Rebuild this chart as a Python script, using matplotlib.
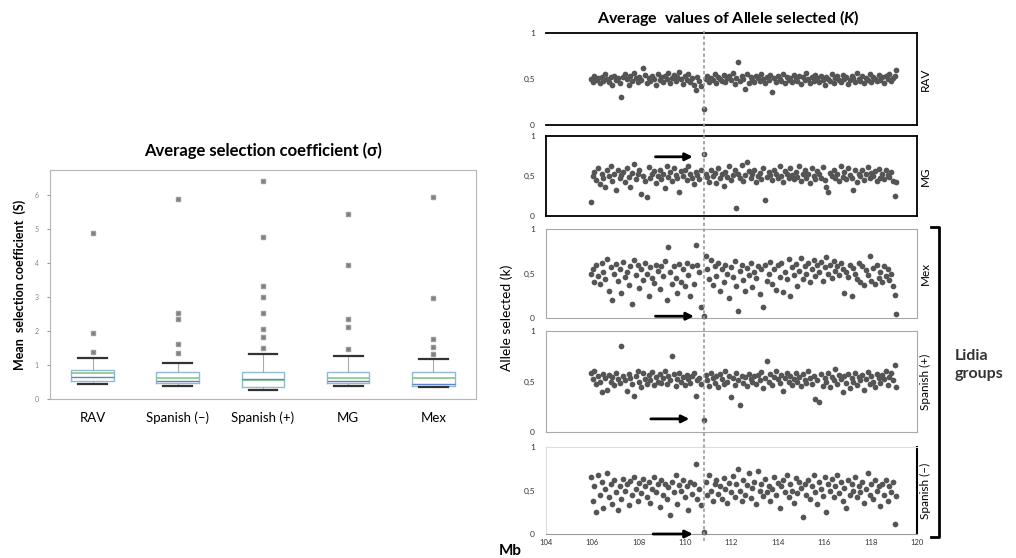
import matplotlib.pyplot as plt
from matplotlib.lines import Line2D
import matplotlib.transforms as mtransforms

plt.rcParams['font.family'] = ['Lato', 'DejaVu Sans']
plt.rcParams['mathtext.fontset'] = 'custom'
plt.rcParams['mathtext.it'] = 'Lato:bold:italic'

# ======================
# DATA - boxplot (mean selection coefficient)
# ======================
box_groups = ["RAV", "Spanish (–)", "Spanish (+)", "MG", "Mex"]
box_q1 = [0.53, 0.47, 0.35, 0.47, 0.38]
box_med = [0.78, 0.63, 0.55, 0.62, 0.61]
box_mean = [0.66, 0.52, 0.60, 0.53, 0.45]
box_q3 = [0.85, 0.79, 0.79, 0.79, 0.79]
box_whislo = [0.44, 0.38, 0.26, 0.38, 0.36]
box_whishi = [1.20, 1.06, 1.32, 1.26, 1.18]
box_fliers = [
    [1.38, 1.94, 4.88],
    [1.35, 1.62, 2.35, 2.53, 5.88],
    [1.50, 1.82, 2.06, 2.53, 3.00, 3.32, 4.76, 6.41],
    [1.47, 2.12, 2.35, 3.94, 5.44],
    [1.32, 1.53, 1.76, 2.97, 5.94],
]
box_yticks = [0, 1, 2, 3, 4, 5, 6]

# ======================
# DATA - allele selected (K) per SNP position (Mb)
# ======================
pos_mb = [
    105.92, 106.01, 106.08, 106.17, 106.24, 106.31, 106.40, 106.46, 106.55, 106.63,
    106.70, 106.79, 106.85, 106.94, 107.02, 107.09, 107.18, 107.25, 107.33, 107.41,
    107.48, 107.57, 107.64, 107.72, 107.80, 107.87, 107.96, 108.03, 108.11, 108.20,
    108.27, 108.35, 108.43, 108.50, 108.58, 108.66, 108.73, 108.82, 108.90, 108.97,
    109.05, 109.13, 109.21, 109.28, 109.36, 109.44, 109.51, 109.60, 109.67, 109.75,
    109.83, 109.91, 109.98, 110.06, 110.14, 110.22, 110.29, 110.37, 110.45, 110.53,
    110.61, 110.69, 110.80, 110.88, 110.96, 111.04, 111.12, 111.19, 111.27, 111.35,
    111.43, 111.50, 111.58, 111.66, 111.74, 111.81, 111.89, 111.97, 112.05, 112.13,
    112.20, 112.28, 112.36, 112.44, 112.51, 112.59, 112.67, 112.75, 112.82, 112.90,
    112.98, 113.06, 113.14, 113.21, 113.29, 113.37, 113.45, 113.52, 113.60, 113.68,
    113.76, 113.83, 113.91, 113.99, 114.07, 114.15, 114.22, 114.30, 114.38, 114.46,
    114.53, 114.61, 114.69, 114.77, 114.84, 114.92, 115.00, 115.08, 115.16, 115.23,
    115.31, 115.39, 115.47, 115.54, 115.62, 115.70, 115.78, 115.85, 115.93, 116.01,
    116.09, 116.17, 116.24, 116.32, 116.40, 116.48, 116.55, 116.63, 116.71, 116.79,
    116.86, 116.94, 117.02, 117.10, 117.18, 117.25, 117.33, 117.41, 117.49, 117.56,
    117.64, 117.72, 117.80, 117.87, 117.95, 118.03, 118.11, 118.19, 118.26, 118.34,
    118.42, 118.50, 118.57, 118.65, 118.73, 118.81, 118.88, 118.96, 119.04, 119.10,
]

k_rav = [
    0.50, 0.47, 0.53, 0.49, 0.51, 0.46, 0.52, 0.48, 0.55, 0.50,
    0.47, 0.52, 0.44, 0.53, 0.49, 0.51, 0.46, 0.30, 0.52, 0.55,
    0.50, 0.44, 0.53, 0.48, 0.56, 0.51, 0.47, 0.52, 0.49, 0.62,
    0.54, 0.46, 0.51, 0.48, 0.53, 0.50, 0.44, 0.55, 0.49, 0.52,
    0.47, 0.53, 0.50, 0.56, 0.46, 0.51, 0.54, 0.48, 0.52, 0.58,
    0.50, 0.45, 0.53, 0.49, 0.55, 0.47, 0.51, 0.44, 0.38, 0.52,
    0.48, 0.42, 0.17, 0.50, 0.53, 0.47, 0.51, 0.49, 0.55, 0.46,
    0.52, 0.50, 0.48, 0.54, 0.47, 0.51, 0.53, 0.49, 0.56, 0.45,
    0.51, 0.68, 0.48, 0.53, 0.50, 0.39, 0.55, 0.46, 0.52, 0.49,
    0.47, 0.53, 0.51, 0.48, 0.55, 0.50, 0.46, 0.52, 0.49, 0.54,
    0.36, 0.51, 0.47, 0.53, 0.50, 0.48, 0.55, 0.46, 0.52, 0.49,
    0.51, 0.47, 0.54, 0.50, 0.48, 0.53, 0.45, 0.52, 0.49, 0.56,
    0.50, 0.46, 0.52, 0.48, 0.54, 0.51, 0.47, 0.53, 0.49, 0.44,
    0.52, 0.50, 0.48, 0.55, 0.46, 0.51, 0.53, 0.49, 0.47, 0.54,
    0.50, 0.52, 0.45, 0.49, 0.53, 0.51, 0.47, 0.56, 0.50, 0.48,
    0.53, 0.46, 0.51, 0.49, 0.55, 0.47, 0.52, 0.50, 0.48, 0.54,
    0.49, 0.52, 0.46, 0.53, 0.50, 0.55, 0.48, 0.51, 0.53, 0.60,
]

k_mg = [
    0.18, 0.50, 0.55, 0.45, 0.60, 0.40, 0.52, 0.48, 0.36, 0.57,
    0.50, 0.62, 0.44, 0.53, 0.33, 0.58, 0.47, 0.51, 0.55, 0.42,
    0.60, 0.49, 0.36, 0.54, 0.65, 0.46, 0.52, 0.57, 0.28, 0.50,
    0.44, 0.24, 0.61, 0.48, 0.53, 0.56, 0.41, 0.50, 0.58, 0.46,
    0.52, 0.35, 0.63, 0.49, 0.55, 0.44, 0.60, 0.51, 0.47, 0.30,
    0.56, 0.50, 0.58, 0.45, 0.62, 0.53, 0.48, 0.40, 0.55, 0.51,
    0.46, 0.58, 0.78, 0.52, 0.49, 0.43, 0.57, 0.50, 0.54, 0.41,
    0.60, 0.47, 0.52, 0.38, 0.55, 0.49, 0.62, 0.45, 0.51, 0.57,
    0.10, 0.53, 0.48, 0.64, 0.44, 0.51, 0.67, 0.56, 0.47, 0.52,
    0.58, 0.43, 0.50, 0.54, 0.46, 0.60, 0.20, 0.49, 0.55, 0.51,
    0.45, 0.58, 0.52, 0.48, 0.62, 0.50, 0.43, 0.56, 0.53, 0.47,
    0.60, 0.51, 0.46, 0.55, 0.49, 0.63, 0.44, 0.52, 0.57, 0.48,
    0.53, 0.41, 0.60, 0.50, 0.46, 0.56, 0.52, 0.48, 0.61, 0.45,
    0.36, 0.30, 0.54, 0.50, 0.58, 0.47, 0.52, 0.44, 0.62, 0.49,
    0.55, 0.46, 0.60, 0.51, 0.48, 0.33, 0.57, 0.43, 0.53, 0.50,
    0.58, 0.45, 0.52, 0.61, 0.47, 0.54, 0.50, 0.56, 0.44, 0.59,
    0.48, 0.53, 0.46, 0.57, 0.51, 0.49, 0.55, 0.44, 0.25, 0.42,
]

k_mex = [
    0.50, 0.55, 0.40, 0.60, 0.47, 0.38, 0.62, 0.52, 0.44, 0.66,
    0.30, 0.57, 0.20, 0.49, 0.61, 0.42, 0.55, 0.28, 0.63, 0.46,
    0.52, 0.37, 0.58, 0.16, 0.65, 0.48, 0.60, 0.34, 0.55, 0.43,
    0.62, 0.50, 0.25, 0.57, 0.45, 0.39, 0.60, 0.53, 0.33, 0.58,
    0.47, 0.64, 0.20, 0.80, 0.52, 0.38, 0.58, 0.45, 0.28, 0.61,
    0.40, 0.55, 0.36, 0.62, 0.48, 0.25, 0.58, 0.38, 0.82, 0.60,
    0.52, 0.12, 0.02, 0.70, 0.55, 0.44, 0.65, 0.37, 0.58, 0.47,
    0.62, 0.30, 0.55, 0.41, 0.60, 0.50, 0.22, 0.57, 0.46, 0.64,
    0.36, 0.08, 0.53, 0.59, 0.43, 0.30, 0.56, 0.48, 0.62, 0.35,
    0.52, 0.45, 0.58, 0.27, 0.55, 0.12, 0.60, 0.42, 0.50, 0.63,
    0.38, 0.55, 0.32, 0.59, 0.46, 0.62, 0.29, 0.52, 0.44, 0.66,
    0.25, 0.57, 0.48, 0.61, 0.36, 0.53, 0.67, 0.44, 0.58, 0.50,
    0.62, 0.40, 0.55, 0.65, 0.47, 0.59, 0.52, 0.63, 0.42, 0.57,
    0.68, 0.50, 0.60, 0.45, 0.64, 0.53, 0.58, 0.48, 0.62, 0.55,
    0.28, 0.52, 0.46, 0.60, 0.25, 0.56, 0.50, 0.44, 0.62, 0.40,
    0.58, 0.37, 0.54, 0.48, 0.70, 0.42, 0.56, 0.38, 0.60, 0.45,
    0.52, 0.40, 0.58, 0.47, 0.55, 0.43, 0.50, 0.36, 0.26, 0.05,
]

k_sp_plus = [
    0.58, 0.52, 0.60, 0.48, 0.55, 0.50, 0.40, 0.57, 0.53, 0.42,
    0.56, 0.50, 0.54, 0.47, 0.58, 0.52, 0.49, 0.85, 0.55, 0.51,
    0.41, 0.57, 0.53, 0.48, 0.36, 0.55, 0.60, 0.50, 0.45, 0.58,
    0.52, 0.48, 0.56, 0.51, 0.59, 0.47, 0.54, 0.50, 0.57, 0.49,
    0.53, 0.60, 0.48, 0.55, 0.51, 0.75, 0.57, 0.46, 0.52, 0.58,
    0.50, 0.54, 0.47, 0.56, 0.52, 0.49, 0.55, 0.58, 0.36, 0.51,
    0.53, 0.48, 0.12, 0.56, 0.51, 0.46, 0.58, 0.53, 0.49, 0.55,
    0.45, 0.57, 0.52, 0.48, 0.60, 0.50, 0.55, 0.35, 0.53, 0.47,
    0.58, 0.51, 0.27, 0.55, 0.49, 0.54, 0.46, 0.57, 0.52, 0.50,
    0.55, 0.48, 0.56, 0.51, 0.59, 0.44, 0.53, 0.70, 0.50, 0.57,
    0.47, 0.54, 0.60, 0.52, 0.49, 0.56, 0.41, 0.53, 0.58, 0.50,
    0.55, 0.47, 0.52, 0.58, 0.50, 0.54, 0.46, 0.57, 0.51, 0.49,
    0.60, 0.53, 0.48, 0.55, 0.33, 0.51, 0.30, 0.57, 0.46, 0.53,
    0.50, 0.58, 0.45, 0.54, 0.51, 0.62, 0.48, 0.56, 0.52, 0.40,
    0.55, 0.49, 0.57, 0.44, 0.53, 0.50, 0.58, 0.47, 0.54, 0.51,
    0.56, 0.42, 0.52, 0.59, 0.48, 0.55, 0.50, 0.45, 0.57, 0.53,
    0.49, 0.56, 0.52, 0.60, 0.47, 0.54, 0.58, 0.51, 0.66, 0.45,
]

k_sp_minus = [
    0.65, 0.38, 0.55, 0.25, 0.68, 0.45, 0.60, 0.30, 0.52, 0.70,
    0.42, 0.57, 0.35, 0.62, 0.48, 0.28, 0.55, 0.40, 0.63, 0.50,
    0.58, 0.33, 0.61, 0.45, 0.66, 0.52, 0.38, 0.59, 0.47, 0.63,
    0.55, 0.42, 0.60, 0.36, 0.52, 0.65, 0.48, 0.57, 0.31, 0.62,
    0.45, 0.58, 0.40, 0.54, 0.22, 0.60, 0.48, 0.68, 0.35, 0.56,
    0.50, 0.62, 0.42, 0.55, 0.28, 0.60, 0.46, 0.58, 0.80, 0.40,
    0.52, 0.33, 0.02, 0.60, 0.45, 0.68, 0.50, 0.38, 0.57, 0.62,
    0.46, 0.55, 0.40, 0.64, 0.52, 0.36, 0.59, 0.48, 0.67, 0.43,
    0.58, 0.75, 0.50, 0.38, 0.62, 0.45, 0.56, 0.70, 0.41, 0.53,
    0.60, 0.35, 0.72, 0.50, 0.57, 0.44, 0.63, 0.48, 0.55, 0.38,
    0.52, 0.66, 0.45, 0.59, 0.30, 0.55, 0.62, 0.48, 0.68, 0.42,
    0.57, 0.50, 0.36, 0.64, 0.47, 0.60, 0.53, 0.20, 0.58, 0.45,
    0.62, 0.40, 0.55, 0.68, 0.48, 0.35, 0.60, 0.52, 0.44, 0.66,
    0.25, 0.58, 0.50, 0.63, 0.42, 0.55, 0.68, 0.47, 0.60, 0.38,
    0.53, 0.30, 0.62, 0.45, 0.57, 0.50, 0.65, 0.42, 0.55, 0.48,
    0.60, 0.36, 0.52, 0.70, 0.45, 0.58, 0.40, 0.62, 0.50, 0.55,
    0.32, 0.58, 0.45, 0.62, 0.38, 0.55, 0.48, 0.60, 0.12, 0.44,
]

panel_names = ["RAV", "MG", "Mex", "Spanish (+)", "Spanish (–)"]
panel_values = [k_rav, k_mg, k_mex, k_sp_plus, k_sp_minus]
target_mb = 110.8
# arrows pointing at the target SNP: (start Mb, end Mb, height) or None
arrow_start = [None, 108.6, 108.6, 108.4, 108.5]
arrow_end = [None, 110.45, 110.5, 110.3, 110.45]
arrow_y = [None, 0.74, 0.02, 0.13, 0.0]
mb_ticks = [104, 106, 108, 110, 112, 114, 116, 118, 120]

# ======================
# FIGURE
# ======================
fig = plt.figure(figsize=(10.16, 5.58), dpi=100)

# ---------- left: boxplot ----------
ax = fig.add_axes([0.0492, 0.2849, 0.4193, 0.4104])
stats = []
for i, name in enumerate(box_groups):
    stats.append({
        "label": name, "q1": box_q1[i], "med": box_med[i], "q3": box_q3[i],
        "whislo": box_whislo[i], "whishi": box_whishi[i],
        "fliers": box_fliers[i], "mean": box_mean[i],
    })
ax.bxp(stats, positions=range(1, 6), widths=0.5, capwidths=0.34,
       showmeans=True, meanline=True,
       boxprops=dict(color="#8fbcd4", lw=1.0),
       medianprops=dict(color="#7cc47c", lw=1.1),
       meanprops=dict(color="#5b86c9", lw=1.0, linestyle="-"),
       whiskerprops=dict(color="#aaaaaa", lw=0.8),
       capprops=dict(color="#333333", lw=1.6),
       flierprops=dict(marker="s", markersize=2.6, markerfacecolor="#7a7a7a",
                       markeredgecolor="#9a9a9a"))
ax.set_xlim(0.5, 5.5)
ax.set_ylim(0, 6.74)
ax.set_yticks(box_yticks)
ax.set_yticklabels([str(t) for t in box_yticks], fontsize=5, color="#888888")
ax.tick_params(axis="y", length=2, color="#999999", pad=6)
ax.tick_params(axis="x", length=0, labelsize=9.5, pad=9)
for s in ax.spines.values():
    s.set_color("#b5b5b5")
ax.set_title("Average selection coefficient (σ)", fontsize=12, fontweight="bold", pad=10)
ax.set_ylabel("Mean  selection coefficient  (S)", fontsize=9, fontweight="bold", labelpad=6)

# ---------- right: stacked scatter panels ----------
left, width = 0.5374, 0.3652
panel_boxes = [
    (0.7760, 0.1649),
    (0.6129, 0.1434),
    (0.4301, 0.1595),
    (0.2258, 0.1810),
    (0.0430, 0.1559),
]
axes = []
for i, (bottom, height) in enumerate(panel_boxes):
    a = fig.add_axes([left, bottom, width, height])
    a.scatter(pos_mb, panel_values[i], s=17, color="#555555", lw=0, clip_on=False, zorder=3)
    a.set_xlim(104, 120)
    a.set_ylim(0, 1)
    a.set_yticks([0, 0.5, 1])
    a.set_yticklabels(["0", "0,5", "1"], fontsize=6, color="#333333")
    a.tick_params(axis="y", length=0, pad=8)
    a.tick_params(axis="x", length=0)
    a.set_xticks(mb_ticks)
    if i < 4:
        a.set_xticklabels([])
    else:
        a.set_xticklabels([str(t) for t in mb_ticks], fontsize=5.5, color="#333333")
    a.text(1.008, 0.5, panel_names[i], transform=a.transAxes, rotation=90,
           ha="left", va="center", fontsize=8.5)
    if arrow_y[i] is not None:
        a.annotate("", xy=(arrow_end[i], arrow_y[i]), xytext=(arrow_start[i], arrow_y[i]),
                   arrowprops=dict(arrowstyle="-|>", color="black", lw=2,
                                   mutation_scale=11), annotation_clip=False)
    axes.append(a)

# frame styles per panel
for sp in axes[0].spines.values():
    sp.set_color("black")
    sp.set_linewidth(1.3)
axes[0].spines["left"].set_visible(False)
for sp in axes[1].spines.values():
    sp.set_color("black")
    sp.set_linewidth(1.3)
for a in axes[2:4]:
    for sp in a.spines.values():
        sp.set_color("#a8a8a8")
        sp.set_linewidth(0.8)
for k in ["top", "left"]:
    axes[4].spines[k].set_color("#dddddd")
    axes[4].spines[k].set_linewidth(0.8)
axes[4].spines["bottom"].set_color("#999999")
axes[4].spines["right"].set_color("black")
axes[4].spines["right"].set_linewidth(1.5)

# dashed line through the target SNP across all panels
trans = mtransforms.blended_transform_factory(axes[4].transData, fig.transFigure)
fig.add_artist(Line2D([target_mb, target_mb], [0.03, 0.945], transform=trans,
                      color="#9a9a9a", lw=1.2, linestyle=(0, (2, 1.5)), zorder=5))

axes[4].text(-0.095, -0.2, "Mb", transform=axes[4].transAxes, fontsize=11,
             fontweight="bold", ha="center", va="center")

fig.text(0.7165, 0.968, r"Average  values of Allele selected ($\mathit{K}$)",
         ha="center", va="center", fontsize=11.5, fontweight="bold")
fig.text(0.499, 0.43, "Allele selected (k)", rotation=90, ha="center", va="center",
         fontsize=10)

# Lidia bracket
fig.add_artist(Line2D([0.9163, 0.9242, 0.9242, 0.9163],
                      [0.5932, 0.5932, 0.0376, 0.0376],
                      transform=fig.transFigure, color="black", lw=2))
fig.text(0.94, 0.346, "Lidia\ngroups", ha="left", va="center", fontsize=11.5,
         fontweight="bold", color="#333333", linespacing=1.4)

fig.savefig("out.png", dpi=100)
